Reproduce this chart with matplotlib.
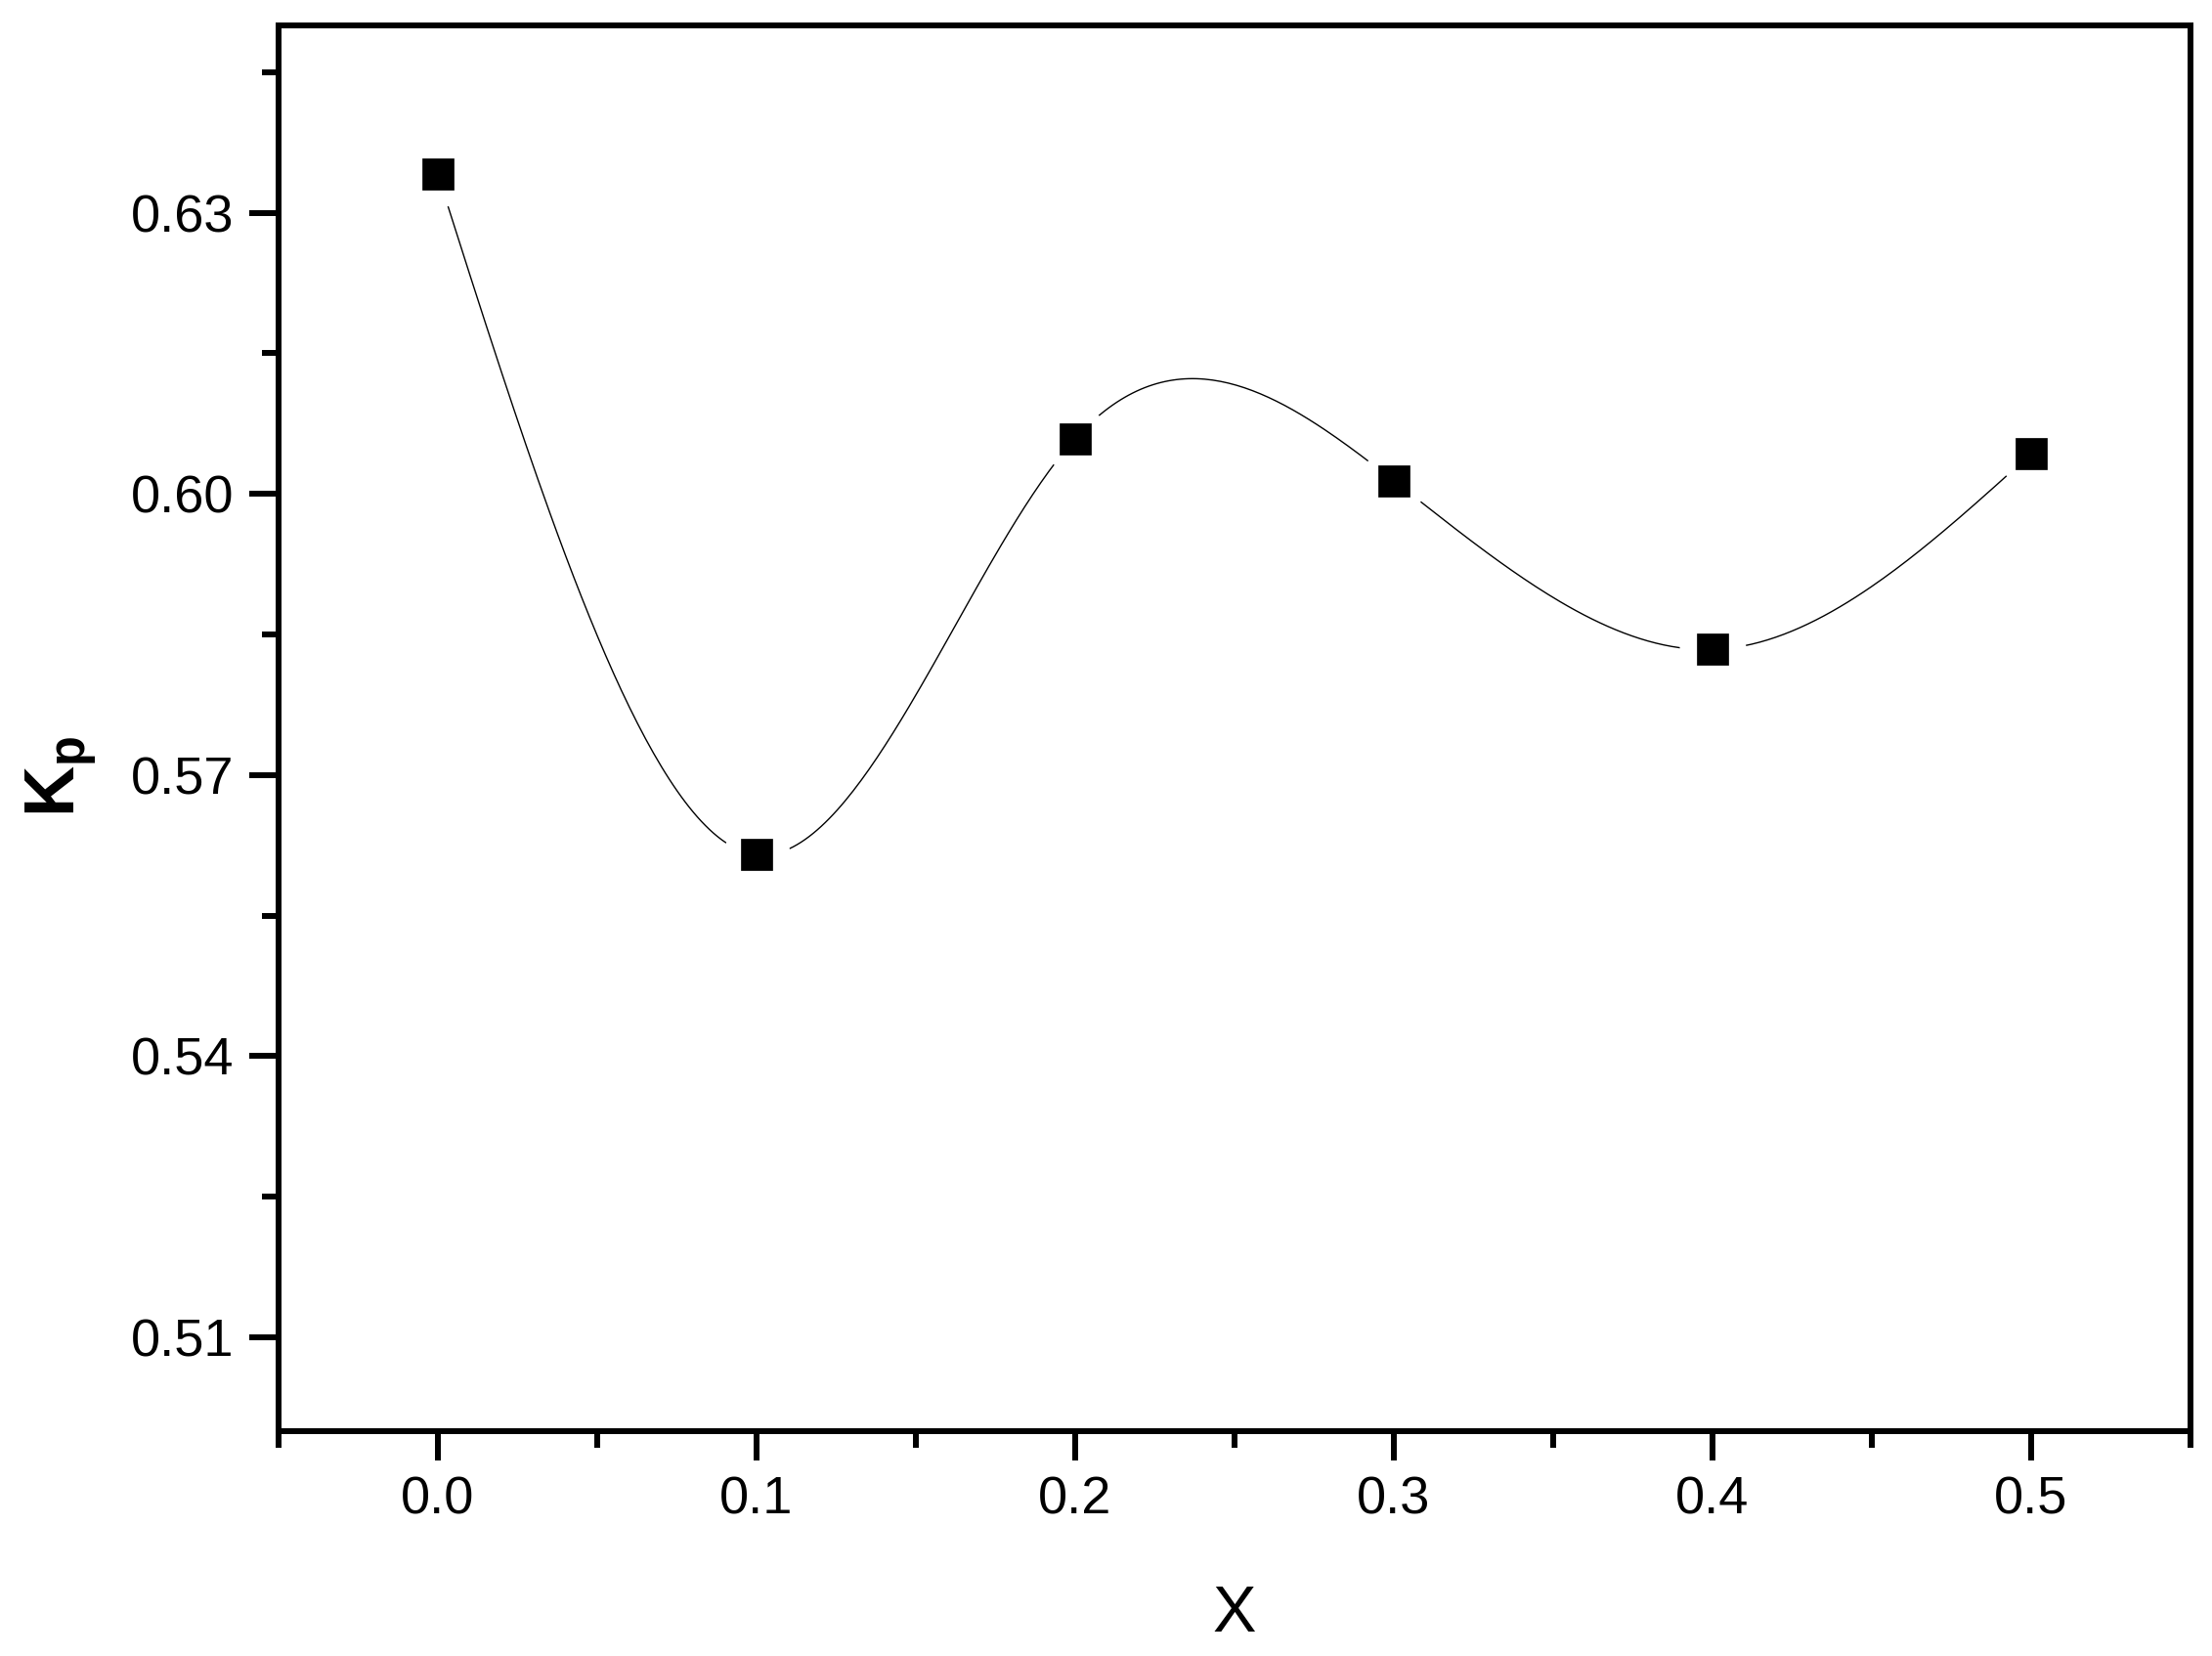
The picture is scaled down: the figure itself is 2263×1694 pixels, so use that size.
# Kp versus X, square markers joined by a cubic spline

import numpy as np
import matplotlib
matplotlib.use("Agg")
import matplotlib.pyplot as plt
from matplotlib.ticker import MultipleLocator

# ==============================================================================

x_vals = [0.0, 0.1, 0.2, 0.3, 0.4, 0.5]
kp_vals = [0.6341, 0.5615, 0.6059, 0.6014, 0.5834, 0.6043]

# Natural cubic spline through the points (the connecting curve)
def natural_spline(x, y, n=400):
  x = np.asarray(x, float)
  y = np.asarray(y, float)
  h = np.diff(x)
  m = len(x)
  A = np.zeros((m, m))
  b = np.zeros(m)
  A[0, 0] = 1
  A[-1, -1] = 1
  for i in range(1, m-1):
    A[i, i-1] = h[i-1]
    A[i, i] = 2*(h[i-1] + h[i])
    A[i, i+1] = h[i]
    b[i] = 6*((y[i+1]-y[i])/h[i] - (y[i]-y[i-1])/h[i-1])
  M = np.linalg.solve(A, b)
  xs = np.linspace(x[0], x[-1], n)
  k = np.clip(np.searchsorted(x, xs) - 1, 0, m-2)
  t0 = x[k+1] - xs
  t1 = xs - x[k]
  hk = h[k]
  ys = (M[k]*t0**3 + M[k+1]*t1**3)/(6*hk) \
     + (y[k]/hk - M[k]*hk/6)*t0 + (y[k+1]/hk - M[k+1]*hk/6)*t1
  return xs, ys

# ------------------------------------------------------------------------------

plt.rcParams["font.family"] = ["Liberation Sans", "DejaVu Sans"]
plt.rcParams["mathtext.fontset"] = "custom"
plt.rcParams["mathtext.bf"] = "Liberation Sans:bold"
plt.rcParams["mathtext.rm"] = "Liberation Sans"

fig = plt.figure(figsize=(22.63, 16.94), dpi=100)
ax = fig.add_axes([0.1259, 0.1358, 0.8644, 0.8489])

xs, ys = natural_spline(x_vals, kp_vals)
ax.plot(xs, ys, color="black", lw=1.0, zorder=1)
# white halo leaves a gap between curve and symbol
ax.plot(x_vals, kp_vals, ls="none", marker="o", ms=49, mfc="white", mec="none", zorder=2)
ax.plot(x_vals, kp_vals, ls="none", marker="s", ms=23.5, mfc="black", mec="black", mew=0.5, zorder=3)

ax.set_xlim(-0.05, 0.55)
ax.set_ylim(0.50, 0.65)

ax.xaxis.set_major_locator(MultipleLocator(0.1))
ax.xaxis.set_minor_locator(MultipleLocator(0.05))
ax.set_yticks([0.51, 0.54, 0.57, 0.60, 0.63])
ax.set_yticks([0.525, 0.555, 0.585, 0.615, 0.645], minor=True)
ax.set_yticklabels(["0.51", "0.54", "0.57", "0.60", "0.63"])
ax.set_xticklabels([f"{v:.1f}" for v in ax.get_xticks()])

for s in ax.spines.values():
  s.set_linewidth(4.3)
ax.tick_params(which="major", direction="out", length=21.6, width=4.3, labelsize=39, pad=11)
ax.tick_params(which="minor", direction="out", length=12, width=4.3)
ax.tick_params(top=False, right=False, which="both")

ax.set_xlabel("X", fontsize=48)
ax.xaxis.set_label_coords(0.5, -0.109)
ax.set_ylabel(r"$\mathbf{K}_\mathbf{p}$", fontsize=52)
ax.yaxis.set_label_coords(-0.0936, 0.466)

fig.savefig("out.png", dpi=100)
